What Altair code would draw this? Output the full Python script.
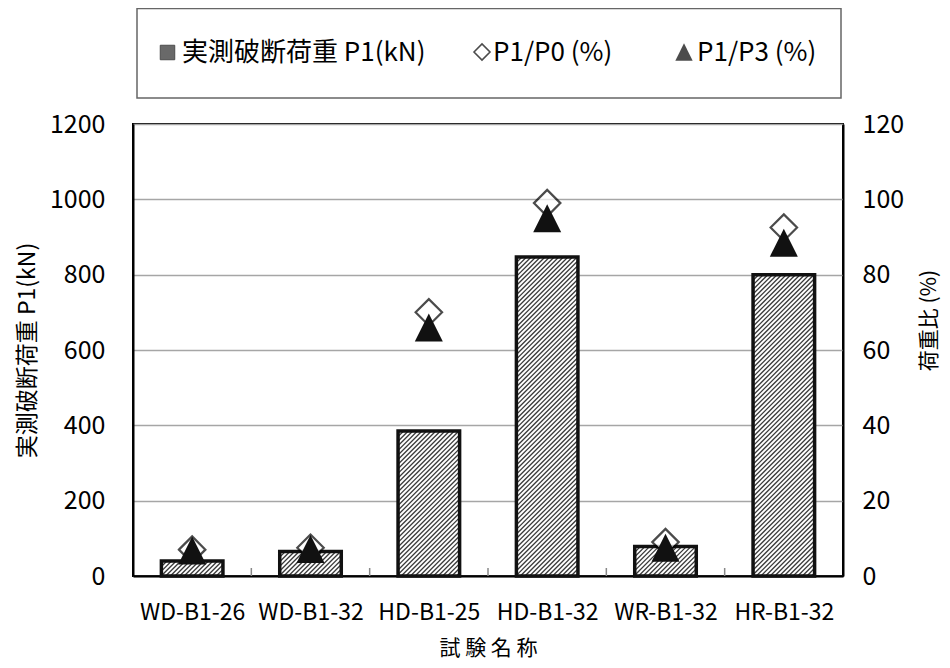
import json
import altair as alt
import pandas as pd

# ---------------- data ----------------
NAMES = ["WD-B1-26", "WD-B1-32", "HD-B1-25", "HD-B1-32", "WR-B1-32", "HR-B1-32"]
P1_KN = [40, 65, 385, 847, 78, 800]          # 実測破断荷重 P1 (kN)
P1_P0 = [7.0, 7.5, 70, 99, 9, 92.5]          # P1/P0 (%)
P1_P3 = [6.8, 7.2, 66, 95, 7.5, 88.5]        # P1/P3 (%)
Y_TICKS = [0, 200, 400, 600, 800, 1000, 1200]
Y2_TICKS = [0, 20, 40, 60, 80, 100, 120]
LEGEND = ["実測破断荷重 P1(kN)", "P1/P0 (%)", "P1/P3 (%)"]
Y_TITLE = "実測破断荷重 P1(kN)"
Y2_TITLE = "荷重比  (%)"
X_TITLE = "試 験 名 称"

# ---------------- layout / style ----------------
W, H = 710, 452
N = len(NAMES)
PX_X = W / N
PX_Y = H / Y_TICKS[-1]
BW = 0.26                      # half bar width in category units
WPX = 2 * BW * PX_X
STEP = 4.6                     # hatch spacing (px)
FONT = "'Noto Sans CJK JP', sans-serif"

df = pd.DataFrame({"name": NAMES, "p1": P1_KN, "r0": P1_P0, "r3": P1_P3})
df["pos"] = [i + 0.5 for i in range(N)]

X_SCALE = alt.Scale(domain=[0, N], nice=False, zero=False)
X_AXIS = alt.Axis(
    values=[i + 0.5 for i in range(N)],
    labelExpr=f"{json.dumps(NAMES)}[floor(datum.value)]",
    grid=False, ticks=False, tickSize=0, labelPadding=25,
    labelFont=FONT, labelFontSize=23, labelColor="black",
    labelFlush=False, labelOverlap=False, labelBound=False,
    domainColor="black", domainWidth=2,
    title=X_TITLE, titleFont=FONT, titleFontSize=21, titleFontWeight="normal",
    titleColor="black", titleX=W / 2, titleY=72, titleAlign="center",
    titleBaseline="middle",
)
Y_SCALE = alt.Scale(domain=[Y_TICKS[0], Y_TICKS[-1]], nice=False)
Y_AXIS = alt.Axis(
    values=Y_TICKS, format="d", grid=True, gridColor="#a6a6a6", gridWidth=1.5,
    ticks=False, tickSize=0, labelPadding=28,
    labelFont=FONT, labelFontSize=25, labelColor="black",
    domainColor="black", domainWidth=2,
    title=Y_TITLE, titleFont=FONT, titleFontSize=23, titleFontWeight="normal",
    titleColor="black", titleX=-106, titleY=H / 2, titleAngle=270,
    titleAlign="center", titleBaseline="middle",
)
Y2_SCALE = alt.Scale(domain=[Y2_TICKS[0], Y2_TICKS[-1]], nice=False)
Y2_AXIS = alt.Axis(
    orient="right", values=Y2_TICKS, format="d", grid=False,
    ticks=False, tickSize=0, labelPadding=19,
    labelFont=FONT, labelFontSize=25, labelColor="black",
    domainColor="black", domainWidth=2,
    title=Y2_TITLE, titleFont=FONT, titleFontSize=21, titleFontWeight="normal",
    titleColor="black", titleX=86, titleY=196, titleAngle=270,
    titleAlign="center", titleBaseline="middle",
)

base = alt.Chart(df).transform_calculate(
    xl=f"datum.pos - {BW}", xr=f"datum.pos + {BW}", z="0"
)

bars_fill = base.mark_rect(fill="white", strokeWidth=0).encode(
    x=alt.X("xl:Q", scale=X_SCALE, axis=X_AXIS),
    x2="xr:Q",
    y=alt.Y("p1:Q", scale=Y_SCALE, axis=Y_AXIS),
    y2="z:Q",
)

hatch = alt.Chart(df).transform_calculate(
    hpx=f"datum.p1 * {PX_Y}"
).transform_calculate(
    cs=f"sequence(-datum.hpx + 1, {WPX}, {STEP})"
).transform_flatten(["cs"]).transform_calculate(
    h1="max(0, -datum.cs)"
).transform_calculate(
    h2=f"min(datum.hpx, {WPX} - datum.cs)"
).transform_filter("datum.h2 > datum.h1").transform_calculate(
    hx1=f"datum.pos - {BW} + (datum.h1 + datum.cs) / {PX_X}",
    hx2=f"datum.pos - {BW} + (datum.h2 + datum.cs) / {PX_X}",
    hy1=f"datum.h1 / {PX_Y}",
    hy2=f"datum.h2 / {PX_Y}",
).mark_rule(color="#3a3a3a", strokeWidth=1.3).encode(
    x=alt.X("hx1:Q", scale=X_SCALE, axis=X_AXIS),
    x2="hx2:Q",
    y=alt.Y("hy1:Q", scale=Y_SCALE, axis=Y_AXIS),
    y2="hy2:Q",
)

bars_outline = base.mark_rect(fillOpacity=0, stroke="#111", strokeWidth=3.5,
                              strokeJoin="miter").encode(
    x=alt.X("xl:Q", scale=X_SCALE, axis=X_AXIS),
    x2="xr:Q",
    y=alt.Y("p1:Q", scale=Y_SCALE, axis=Y_AXIS),
    y2="z:Q",
)

bounds = alt.Chart(alt.Data(values=[{"b": i} for i in range(1, N)])).mark_rule(
    color="#888", strokeWidth=1.5
).encode(
    x=alt.X("b:Q", scale=X_SCALE, axis=X_AXIS),
    y=alt.value(H), y2=alt.value(H - 8),
)

# ---------------- legend (hand drawn) ----------------
one = lambda s: alt.Data(values=[{"t": s}])
leg_box = alt.Chart(one("")).mark_rect(fill="white", stroke="#666", strokeWidth=1.5).encode(
    x=alt.value(4), x2=alt.value(708), y=alt.value(-115.5), y2=alt.value(-26)
)
leg_sq = alt.Chart(one("")).mark_point(shape="square", size=210, filled=True,
                                       fill="#2a2a2a", stroke="black", strokeWidth=1).encode(
    x=alt.value(34.5), y=alt.value(-71.5)
)
leg_dia = alt.Chart(one("")).mark_point(shape="diamond", size=256, filled=True,
                                        fill="white", stroke="black", strokeWidth=1.6).encode(
    x=alt.value(349), y=alt.value(-72)
)
leg_tri = alt.Chart(one("")).mark_point(shape="M0,-1L1,1L-1,1Z", size=300, filled=True,
                                        fill="black", strokeWidth=0).encode(
    x=alt.value(551), y=alt.value(-72)
)
def leg_text(s, x):
    return alt.Chart(one(s)).mark_text(align="left", baseline="middle", font=FONT,
                                       fontSize=26, color="black").encode(
        x=alt.value(x), y=alt.value(-71), text="t:N"
    )

kn_group = alt.layer(
    bars_fill, hatch, bars_outline, bounds,
    leg_box, leg_sq, leg_dia, leg_tri,
    leg_text(LEGEND[0], 49), leg_text(LEGEND[1], 360), leg_text(LEGEND[2], 564),
)

diamonds = alt.Chart(df).mark_point(shape="diamond", size=700, filled=True, fill="white",
                                    stroke="black", strokeWidth=2.2).encode(
    x=alt.X("pos:Q", scale=X_SCALE, axis=X_AXIS),
    y=alt.Y("r0:Q", scale=Y2_SCALE, axis=Y2_AXIS),
)
triangles = alt.Chart(df).mark_point(shape="M0,-1L1,1L-1,1Z", size=784, filled=True,
                                     fill="#111", strokeWidth=0, opacity=1).encode(
    x=alt.X("pos:Q", scale=X_SCALE, axis=X_AXIS),
    y=alt.Y("r3:Q", scale=Y2_SCALE, axis=Y2_AXIS),
)
pct_group = alt.layer(diamonds, triangles)

chart = alt.layer(kn_group, pct_group).resolve_scale(y="independent").properties(
    width=W, height=H,
    padding={"left": 125, "top": 116, "right": 99, "bottom": 84},
    autosize=alt.AutoSizeParams(type="none"),
).configure(font=FONT).configure_view(stroke="black", strokeWidth=2)

chart.save("out.html", embed_options={"renderer": "svg", "actions": False})
